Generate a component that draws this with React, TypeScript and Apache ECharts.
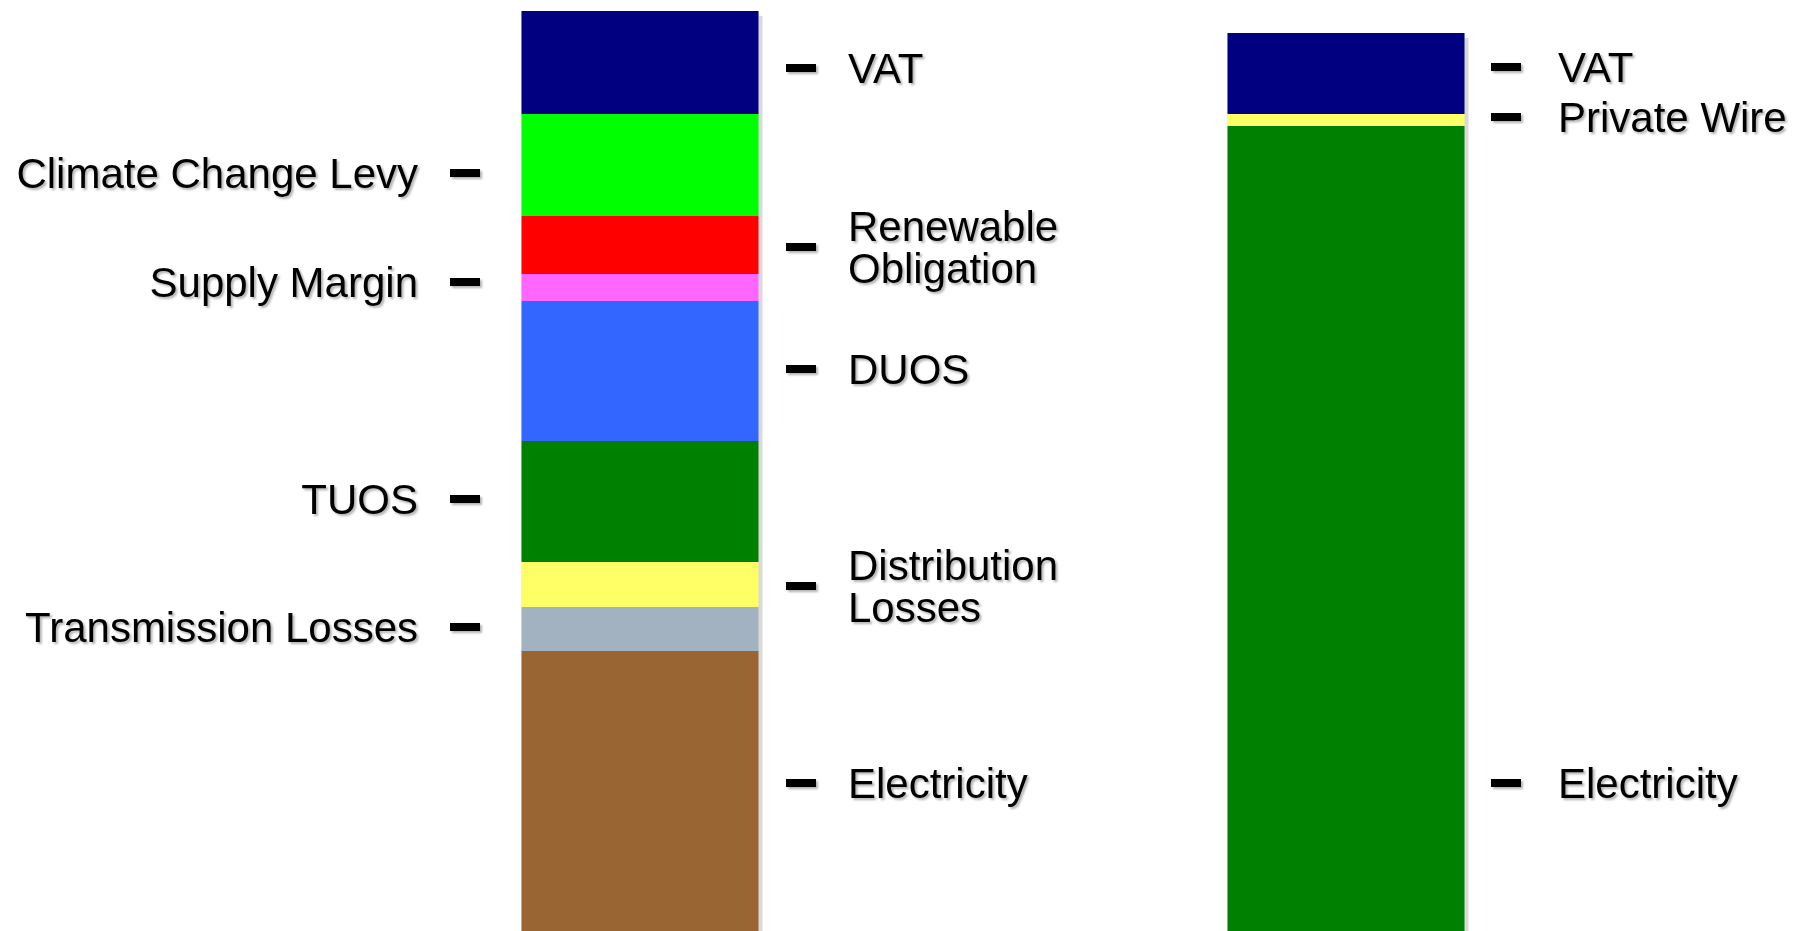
import React, { useEffect, useRef } from "react";
import * as echarts from "echarts";

const categories = ["Grid supply", "Private wire supply"];

// Left bar, bottom to top
const leftNames = [
  "Electricity",
  "Transmission Losses",
  "Distribution Losses",
  "TUOS",
  "DUOS",
  "Supply Margin",
  "Renewable Obligation",
  "Climate Change Levy",
  "VAT",
];
const leftValues = [2.8, 0.44, 0.45, 1.21, 1.4, 0.27, 0.58, 1.02, 1.03];
const leftColors = [
  "#996633",
  "#A3B2C1",
  "#FFFF66",
  "#008000",
  "#3366FF",
  "#FF66FF",
  "#FF0000",
  "#00FF00",
  "#000080",
];

// Right bar, bottom to top
const rightNames = ["Electricity", "Private Wire", "VAT"];
const rightValues = [8.05, 0.12, 0.81];
const rightColors = ["#008000", "#FFFF66", "#000080"];

// Annotation labels
const leftLabelTexts = [
  "VAT",
  "Climate Change Levy",
  "Renewable\nObligation",
  "Supply Margin",
  "DUOS",
  "TUOS",
  "Distribution\nLosses",
  "Transmission Losses",
  "Electricity",
];
const leftLabelLevels = [8.63, 7.58, 6.84, 6.49, 5.62, 4.32, 3.45, 3.04, 1.48];
const leftLabelSides = ["right", "left", "right", "left", "right", "left", "right", "left", "right"];

const rightLabelTexts = ["VAT", "Private Wire", "Electricity"];
const rightLabelLevels = [8.64, 8.14, 1.48];
const rightLabelSides = ["right", "right", "right"];

const FONT = "'Liberation Sans', Arial, Helvetica, sans-serif";

export default function App() {
  const ref = useRef<HTMLDivElement>(null);

  useEffect(() => {
    if (!ref.current) return;
    const chart = echarts.init(ref.current, undefined, { renderer: "svg" });

    const sum = (a: number[]) => a.reduce((s, v) => s + v, 0);
    const totals = [sum(leftValues), sum(rightValues)];

    const shadowSeries = {
      type: "bar",
      name: "shadow",
      data: totals,
      barWidth: 237,
      barGap: "-100%",
      z: 1,
      silent: true,
      itemStyle: {
        color: "#d9d9d9",
        shadowColor: "#d9d9d9",
        shadowOffsetX: 4,
        shadowOffsetY: 5,
        shadowBlur: 0,
      },
    };

    const leftSeries = leftNames.map((n, i) => ({
      type: "bar",
      name: "L-" + n,
      stack: "total",
      barWidth: 237,
      z: 2,
      data: [leftValues[i], "-"],
      itemStyle: { color: leftColors[i] },
    }));
    const rightSeries = rightNames.map((n, i) => ({
      type: "bar",
      name: "R-" + n,
      stack: "total",
      barWidth: 237,
      z: 2,
      data: ["-", rightValues[i]],
      itemStyle: { color: rightColors[i] },
    }));

    const makeLabelItem = (cat: number, text: string, level: number, side: string) => ({
      name: text,
      value: [cat, level],
      symbolOffset: [side === "left" ? -175 : cat === 0 ? 161 : 160, 0],
      label: { position: side, distance: side === "left" ? 32 : cat === 0 ? 32 : 37 },
    });

    const labelData = [
      ...leftLabelTexts.map((t, i) => makeLabelItem(0, t, leftLabelLevels[i], leftLabelSides[i])),
      ...rightLabelTexts.map((t, i) => makeLabelItem(1, t, rightLabelLevels[i], rightLabelSides[i])),
    ];

    const labelSeries = {
      type: "scatter",
      name: "labels",
      z: 5,
      silent: true,
      symbol: "rect",
      symbolSize: [30, 8],
      itemStyle: {
        color: "#000000",
        opacity: 1,
        shadowColor: "rgba(0,0,0,0.3)",
        shadowOffsetX: 2,
        shadowOffsetY: 2,
        shadowBlur: 2,
      },
      label: {
        show: true,
        formatter: (p: any) => p.name,
        distance: 30,
        fontFamily: FONT,
        fontSize: 42,
        lineHeight: 42,
        color: "#000000",
        textShadowColor: "rgba(0,0,0,0.3)",
        textShadowOffsetX: 2,
        textShadowOffsetY: 2,
        textShadowBlur: 2,
      },
      data: labelData,
    };

    chart.setOption({
      animation: false,
      backgroundColor: "#ffffff",
      grid: { left: 287, right: 111, top: 0, bottom: 0, containLabel: false },
      xAxis: {
        type: "category",
        data: categories,
        show: false,
      },
      yAxis: {
        type: "value",
        min: 0,
        max: 9.31,
        show: false,
      },
      series: [shadowSeries, ...leftSeries, ...rightSeries, labelSeries],
    });

    return () => chart.dispose();
  }, []);

  return (
    <div
      ref={ref}
      style={{ position: "fixed", left: 0, top: 0, width: 1810, height: 931 }}
    />
  );
}
